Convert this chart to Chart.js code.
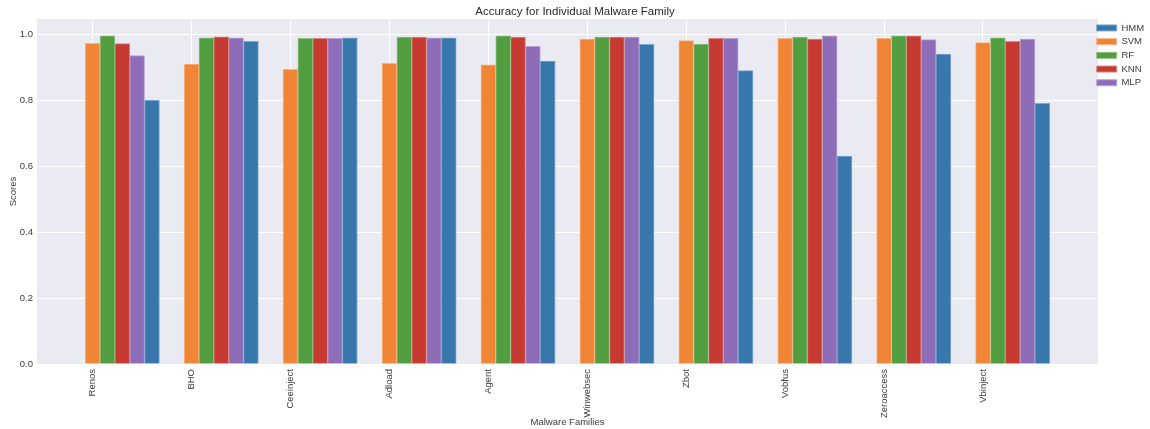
<!DOCTYPE html>
<html>
<head>
<meta charset="utf-8">
<script src="https://cdn.jsdelivr.net/npm/chart.js@4/dist/chart.umd.min.js"></script>
<style>
  html, body { margin: 0; padding: 0; background: #ffffff; }
  #wrap { width: 1150px; height: 429px; }
</style>
</head>
<body>
<div id="wrap"><canvas id="chart" width="1150" height="429"></canvas></div>
<script>
// Malware families on the x axis
const categories = ['Renos', 'BHO', 'Ceeinject', 'Adload', 'Agent', 'Winwebsec', 'Zbot', 'Vobfus', 'Zeroaccess', 'Vbinject'];

// Accuracy per classifier
const hmm = [0.800, 0.979, 0.990, 0.990, 0.919, 0.970, 0.890, 0.631, 0.940, 0.791];
const svm = [0.973, 0.910, 0.894, 0.912, 0.908, 0.986, 0.981, 0.988, 0.988, 0.975];
const rf  = [0.996, 0.990, 0.988, 0.992, 0.996, 0.992, 0.971, 0.992, 0.996, 0.990];
const knn = [0.972, 0.993, 0.988, 0.992, 0.992, 0.992, 0.988, 0.986, 0.996, 0.979];
const mlp = [0.936, 0.990, 0.988, 0.990, 0.964, 0.992, 0.988, 0.996, 0.984, 0.986];

// Y axis tick values
const yTicks = [0.0, 0.2, 0.4, 0.6, 0.8, 1.0];

// Bar layout within each family group (bar width in x units, slot per series)
const BAR_W = 0.15;
const series = [
  { label: 'HMM', values: hmm, slot: 4, color: '#3877ac', edge: '#7fa6cc' },
  { label: 'SVM', values: svm, slot: 0, color: '#f08536', edge: '#f5b386' },
  { label: 'RF',  values: rf,  slot: 1, color: '#519d3f', edge: '#8fc182' },
  { label: 'KNN', values: knn, slot: 2, color: '#c63a32', edge: '#dc8580' },
  { label: 'MLP', values: mlp, slot: 3, color: '#8d6db8', edge: '#b8a4d4' }
];

const datasets = series.map(s => ({
  label: s.label,
  data: s.values.map((v, i) => ({ x: i + s.slot * BAR_W, y: v })),
  backgroundColor: s.color,
  borderColor: s.edge,
  borderWidth: 1,
  borderSkipped: 'bottom',
  grouped: false,
  barPercentage: 1.0,
  categoryPercentage: 1.0
}));

// Light grey panel behind the plotting area
const panelBackground = {
  id: 'panelBackground',
  beforeDraw(chart) {
    const { ctx, chartArea: a } = chart;
    ctx.save();
    ctx.fillStyle = '#eaeaf2';
    ctx.fillRect(a.left, a.top, a.right - a.left, a.bottom - a.top);
    ctx.restore();
  }
};

// Pull the legend column flush with the panel's right edge
const legendNudge = {
  id: 'legendNudge',
  afterLayout(chart) {
    if (chart.legend) {
      chart.legend.left -= 5.5;
      chart.legend.right -= 5.5;
    }
  }
};

const FONT = "'Liberation Sans', Arial, Helvetica, sans-serif";
const TEXT = '#3a3a3a';

new Chart(document.getElementById('chart'), {
  type: 'bar',
  data: { datasets },
  plugins: [panelBackground, legendNudge],
  options: {
    responsive: false,
    animation: false,
    layout: { padding: 0 },
    plugins: {
      title: {
        display: true,
        text: 'Accuracy for Individual Malware Family',
        color: '#2a2a2a',
        font: { family: FONT, size: 11.5, weight: 'normal', lineHeight: 1.2 },
        padding: { top: 4.6, bottom: 0.6 }
      },
      legend: {
        display: true,
        position: 'right',
        align: 'start',
        fullSize: false,
        maxWidth: 52,
        labels: {
          boxWidth: 20,
          boxHeight: 6,
          padding: 4.2,
          color: TEXT,
          font: { family: FONT, size: 9.5 }
        }
      },
      tooltip: { enabled: false }
    },
    scales: {
      x: {
        type: 'linear',
        offset: false,
        min: -0.5625,
        max: 10.1625,
        afterBuildTicks(scale) {
          scale.ticks = categories.map((_, i) => ({ value: i }));
        },
        afterFit(scale) { scale.height = 65; },
        ticks: {
          autoSkip: false,
          minRotation: 90,
          maxRotation: 90,
          padding: 5,
          color: TEXT,
          font: { family: FONT, size: 9.5 },
          callback: (value) => categories[value] ?? ''
        },
        grid: { color: '#ffffff', lineWidth: 1, drawTicks: false, offset: false },
        border: { display: false },
        title: {
          display: true,
          text: 'Malware Families',
          color: TEXT,
          font: { family: FONT, size: 9.5, lineHeight: 1.2 },
          padding: { top: 0, bottom: 0.6 }
        }
      },
      y: {
        type: 'linear',
        min: 0,
        max: 1.0468,
        afterBuildTicks(scale) {
          scale.ticks = yTicks.map(v => ({ value: v }));
        },
        afterFit(scale) { scale.width = 37; },
        ticks: {
          padding: 4,
          color: TEXT,
          font: { family: FONT, size: 9.5 },
          callback: (value) => Number(value).toFixed(1)
        },
        grid: { color: '#ffffff', lineWidth: 1, drawTicks: false },
        border: { display: false },
        title: {
          display: true,
          text: 'Scores',
          color: TEXT,
          font: { family: FONT, size: 9.5, lineHeight: 1.2 },
          padding: { top: 7.6, bottom: 0 }
        }
      }
    }
  }
});
</script>
</body>
</html>
